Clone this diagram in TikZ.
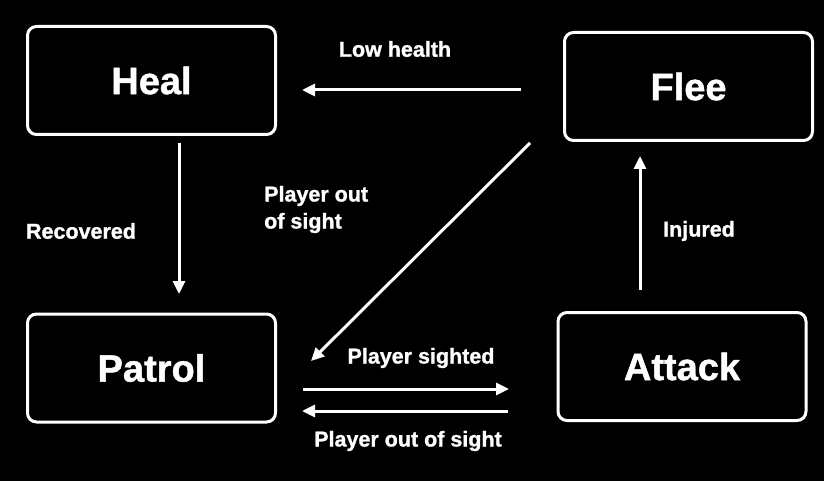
\documentclass[tikz,border=0pt]{standalone}
\usepackage{fontspec}
\setmainfont{Liberation Sans}[BoldFeatures={FakeBold=1.2}]
\usetikzlibrary{arrows.meta}
\begin{document}
\begin{tikzpicture}[x=1pt,y=-1pt,
  state/.style={draw=white,line width=3pt,rounded corners=9pt,minimum width=248pt,minimum height=108pt,text=white,font=\fontsize{38}{40}\selectfont\bfseries,inner sep=0pt},
  conn/.style={draw=white,line width=3pt,-{Triangle[length=13pt,width=12pt]}},
  lbl/.style={text=white,font=\fontsize{21.5}{27}\selectfont\bfseries,inner sep=0pt}]
\fill[black] (0,0) rectangle (824,481);
\useasboundingbox (0,0) rectangle (824,481);
\node[state] (heal) at (151.5,80.5) {Heal};
\node[state] (flee) at (688.5,86.5) {Flee};
\node[state] (patrol) at (151.5,368) {Patrol};
\node[state] (attack) at (682,366.5) {Attack};
\coordinate (a1) at (521,90); \coordinate (a2) at (302,90);
\coordinate (b1) at (179,143); \coordinate (b2) at (179,294);
\coordinate (c1) at (530,143); \coordinate (c2) at (311,361);
\coordinate (d1) at (303,389); \coordinate (d2) at (509,389);
\coordinate (e1) at (508,411); \coordinate (e2) at (302,411);
\coordinate (f1) at (640,290); \coordinate (f2) at (640,156);
\draw[conn] (a1) -- (a2);
\draw[conn] (b1) -- (b2);
\draw[conn] (c1) -- (c2);
\draw[conn] (d1) -- (d2);
\draw[conn] (e1) -- (e2);
\draw[conn] (f1) -- (f2);
\node[lbl] (l1) at (395,49) {Low health};
\node[lbl] (l2) at (81,231) {Recovered};
\node[lbl,align=left,anchor=west] (l3) at (264,209.5) {Player out\\of sight};
\node[lbl] (l4) at (421,358) {Player sighted};
\node[lbl] (l5) at (408,441) {Player out of sight};
\node[lbl] (l6) at (699,231) {Injured};
\end{tikzpicture}
\end{document}
